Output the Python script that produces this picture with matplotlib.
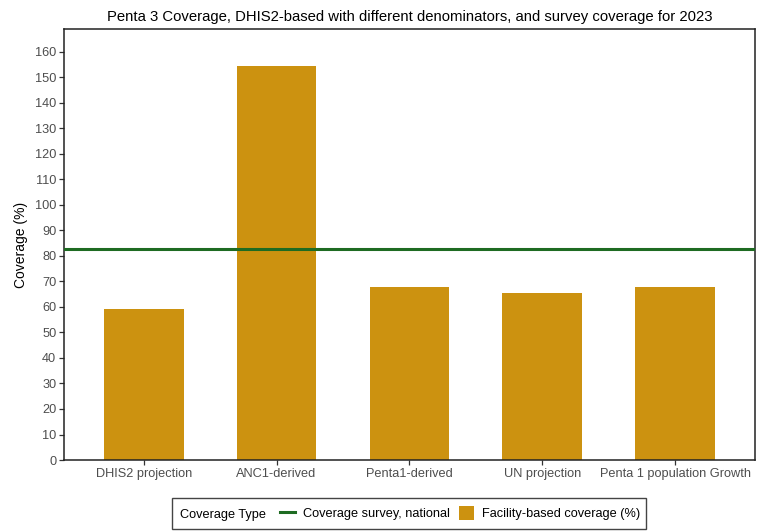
import numpy as np
import matplotlib
matplotlib.use('Agg')
import matplotlib.pyplot as plt
from matplotlib.lines import Line2D
from matplotlib.patches import Patch, Rectangle

plt.rcParams['font.family'] = ['Liberation Sans', 'DejaVu Sans']

# data
denominators = ['DHIS2 projection', 'ANC1-derived', 'Penta1-derived',
                'UN projection', 'Penta 1 population Growth']
facility_coverage = [59.4, 154.3, 68.0, 65.3, 68.0]
survey_coverage = 82.7
yticks = list(range(0, 161, 10))

bar_color = '#CC9210'
line_color = '#1E6B22'

fig = plt.figure(figsize=(7.68, 5.31), dpi=100)
ax = fig.add_axes([0.0833, 0.1337, 0.8997, 0.8117])

x = np.arange(1, len(denominators) + 1)
ax.bar(x, facility_coverage, width=0.6, color=bar_color, zorder=2)
ax.axhline(survey_coverage, color=line_color, lw=2.2, zorder=3)

ax.set_xlim(0.4, 5.6)
ax.set_ylim(0, 169)
ax.set_xticks(x)
ax.set_xticklabels(denominators, fontsize=9.2, color='#4D4D4D')
ax.set_yticks(yticks)
ax.set_yticklabels([str(t) for t in yticks], fontsize=9.2, color='#4D4D4D')
ax.tick_params(axis='both', length=3.5, width=0.9, color='#333333', pad=2)
for s in ax.spines.values():
    s.set_linewidth(1.1)
    s.set_color('#222222')

ax.set_ylabel('Coverage (%)', fontsize=10, labelpad=5)
ax.set_title('Penta 3 Coverage, DHIS2-based with different denominators, and survey coverage for 2023',
             fontsize=10.7, pad=6)

# legend at bottom, title inline
handles = [Line2D([], [], color=line_color, lw=2.2),
           Patch(facecolor=bar_color, edgecolor='none')]
labels = ['Coverage survey, national', 'Facility-based coverage (%)']
fig.legend(handles, labels, ncol=2, loc='center left',
           bbox_to_anchor=(280 / 768, 0.0331), frameon=False, fontsize=9.2,
           handlelength=1.2, handleheight=1.2, handletextpad=0.6,
           columnspacing=0.7, borderpad=0, borderaxespad=0)
fig.text(180 / 768, 0.0331, 'Coverage Type', fontsize=9.2,
         va='center_baseline', ha='left')
fig.patches.append(Rectangle((172 / 768, 0.0038), 474 / 768, 0.059,
                             transform=fig.transFigure, fill=False,
                             edgecolor='#444444', lw=1.0))

fig.savefig('out.png', dpi=100)
